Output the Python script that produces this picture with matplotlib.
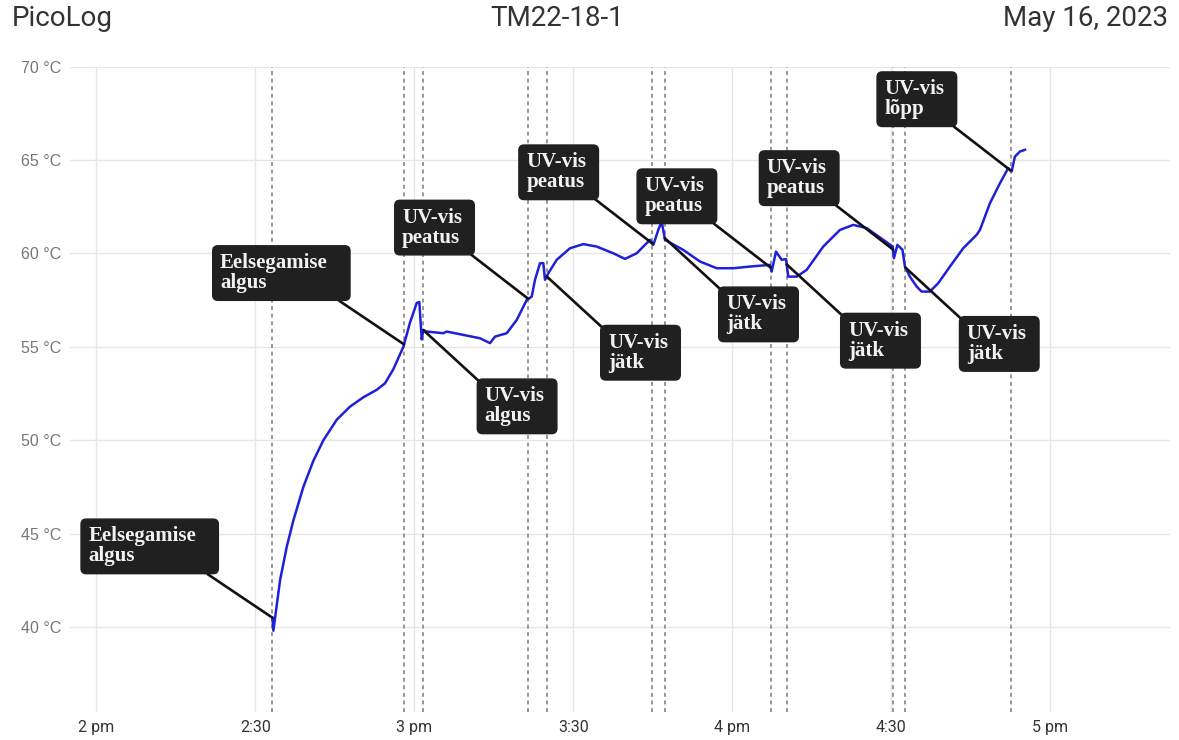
import matplotlib
matplotlib.use("Agg")
import matplotlib.pyplot as plt
import matplotlib.dates as mdates
import matplotlib.ticker as mticker
from matplotlib.patches import BoxStyle
import numpy as np
from datetime import datetime, timedelta

# Logged temperature trace: minutes after 14:00 and temperature in °C
trace_min = [
    33.21, 33.40, 34.66, 35.93, 37.17, 39.06, 40.95, 42.84, 45.37, 47.88,
    50.39, 52.92, 54.48, 56.05, 57.94, 59.20, 60.47, 60.96, 61.41, 61.71,
    62.36, 65.49, 66.13, 69.27, 72.42, 74.31, 75.25, 77.46, 79.35, 81.23,
    82.18, 82.80, 83.75, 84.37, 84.69, 85.31, 86.90, 89.41, 91.92, 94.45,
    97.58, 99.79, 102.00, 104.51, 105.14, 106.08, 106.72, 107.35, 110.80, 113.95,
    117.10, 120.24, 123.39, 127.17, 127.49, 128.30, 129.38, 130.19, 130.62, 132.21,
    134.09, 137.23, 140.38, 142.89, 145.42, 148.56, 150.33, 150.57, 151.23, 152.18,
    152.65, 153.59, 154.86, 155.80, 157.37, 158.94, 161.15, 163.66, 166.19, 166.81,
    168.70, 170.59, 172.15, 172.80, 173.42, 174.37, 175.31,
]
trace_temp = [
    40.50, 39.80, 42.50, 44.30, 45.70, 47.50, 48.90, 50.00, 51.10, 51.80,
    52.30, 52.70, 53.05, 53.80, 55.00, 56.30, 57.35, 57.40, 55.40, 55.90,
    55.82, 55.73, 55.82, 55.64, 55.46, 55.20, 55.55, 55.73, 56.44, 57.51,
    57.69, 58.59, 59.48, 59.48, 58.59, 58.94, 59.66, 60.28, 60.50, 60.37,
    60.01, 59.71, 60.01, 60.73, 60.46, 61.26, 61.71, 60.73, 60.19, 59.57,
    59.21, 59.21, 59.30, 59.39, 59.03, 60.10, 59.66, 59.70, 58.76, 58.76,
    59.12, 60.37, 61.26, 61.53, 61.36, 60.73, 60.37, 59.75, 60.46, 60.20,
    59.30, 58.76, 58.23, 57.96, 57.96, 58.41, 59.30, 60.28, 61.00, 61.26,
    62.69, 63.76, 64.57, 64.39, 65.19, 65.46, 65.55,
]

# Event markers: minutes after 14:00, label text, box placement
event_min = [33.21, 58.07, 61.71, 81.54, 85.01, 104.98,
             107.29, 127.30, 130.32, 150.39, 152.75, 172.61]
event_text = [
    "Eelsegamise\nalgus", "Eelsegamise\nalgus", "UV-vis\nalgus",
    "UV-vis\npeatus", "UV-vis\njätk", "UV-vis\npeatus",
    "UV-vis\njätk", "UV-vis\npeatus", "UV-vis\njätk",
    "UV-vis\npeatus", "UV-vis\njätk", "UV-vis\nlõpp",
]
event_side = ["ul", "ul", "dr", "ul", "dr", "ul",
              "dr", "ul", "dr", "ul", "dr", "ul"]

header_left = "PicoLog"
header_mid = "TM22-18-1"
header_right = "May 16, 2023"

y_ticks = [40, 45, 50, 55, 60, 65, 70]

start = datetime(2023, 5, 16, 14, 0)


def to_num(minutes):
    return mdates.date2num([start + timedelta(minutes=float(m)) for m in np.atleast_1d(minutes)])


class LabelBox(BoxStyle.Round):
    """Rounded box with some extra room on the right-hand side."""

    def __init__(self, pad=0.35, rounding_size=0.25, extra_right=0.0):
        super().__init__(pad=pad, rounding_size=rounding_size)
        self.extra_right = extra_right

    def __call__(self, x0, y0, width, height, mutation_size):
        return super().__call__(x0, y0, width + self.extra_right * mutation_size,
                                height, mutation_size)


W, H = 1179, 740
fig = plt.figure(figsize=(W / 100, H / 100), dpi=100)
fig.patch.set_facecolor("white")

left_px, right_px, top_px, bottom_px = 70, 1170, 66.7, 712
ax = fig.add_axes([left_px / W, 1 - bottom_px / H,
                   (right_px - left_px) / W, (bottom_px - top_px) / H])
ax.set_facecolor("white")

tx = to_num(trace_min)
ax.plot(tx, trace_temp, color="#2020d8", lw=1.8, zorder=3, solid_joinstyle="round")

ex = to_num(event_min)
for x in ex:
    ax.axvline(x, color="#8f8f8f", lw=1.3, ls=(0, (2.2, 2.0)), zorder=2)

ax.set_xlim(to_num(-5)[0], to_num(202.7)[0])
ax.set_ylim(35.45, 70)

ax.xaxis.set_major_locator(mdates.MinuteLocator(byminute=[0, 30]))


def fmt_time(v, pos):
    d = mdates.num2date(v)
    h = d.hour % 12 or 12
    if d.minute == 0:
        return f"{h} pm"
    return f"{h}:{d.minute:02d}"


ax.xaxis.set_major_formatter(mticker.FuncFormatter(fmt_time))
ax.set_yticks(y_ticks)
ax.yaxis.set_major_formatter(mticker.FuncFormatter(lambda v, p: f"{v:.0f} °C"))

ax.grid(True, color="#e6e6e6", lw=1.0, zorder=0)
ax.set_axisbelow(True)
for s in ax.spines.values():
    s.set_visible(False)
ax.tick_params(axis="both", length=0)
ax.tick_params(axis="x", pad=6, labelsize=11.5, labelcolor="#333333")
ax.tick_params(axis="y", pad=6, labelsize=11.5, labelcolor="#777777")
for lab in ax.get_xticklabels():
    lab.set_fontfamily("Roboto")
for lab in ax.get_yticklabels():
    lab.set_fontfamily("Liberation Sans")

# Event annotations: dark rounded boxes joined to the trace by a leader line
label_size = 15
size_px = label_size * 100 / 72
pad = 0.35
pad_px = pad * size_px
anchor_temp = np.interp(event_min, trace_min, trace_temp)
for x, y, text, side in zip(ex, anchor_temp, event_text, event_side):
    extra_px = 15 if text.startswith("Eelsegamise") else 5
    style = LabelBox(pad=pad, rounding_size=0.25, extra_right=extra_px / size_px)
    if side == "ul":
        off = (-(54 + pad_px + extra_px), 44 + pad_px)
        ha, va, rel = "right", "bottom", (1.0, 0.0)
    else:
        off = (54 + pad_px, -(49 + pad_px))
        ha, va, rel = "left", "top", (0.0, 1.0)
    ax.annotate(
        text, xy=(x, y), xytext=off, textcoords="offset pixels",
        ha=ha, va=va, multialignment="left", linespacing=1.0,
        fontsize=label_size, family="Liberation Serif", fontweight="bold",
        color="#f2f2f2",
        bbox=dict(boxstyle=style, fc="#202020", ec="#202020", lw=1),
        arrowprops=dict(arrowstyle="-", color="#111111", lw=1.9,
                        relpos=rel, shrinkA=0, shrinkB=0),
        zorder=5,
    )

hdr_y = 1 - 19 / H
for xpos, txt, ha in [(12, header_left, "left"), (557, header_mid, "center"),
                      (1168, header_right, "right")]:
    fig.text(xpos / W, hdr_y, txt, ha=ha, va="center",
             fontsize=20, family="Roboto", color="#333333")

fig.savefig("out.png", dpi=100, facecolor="white")
